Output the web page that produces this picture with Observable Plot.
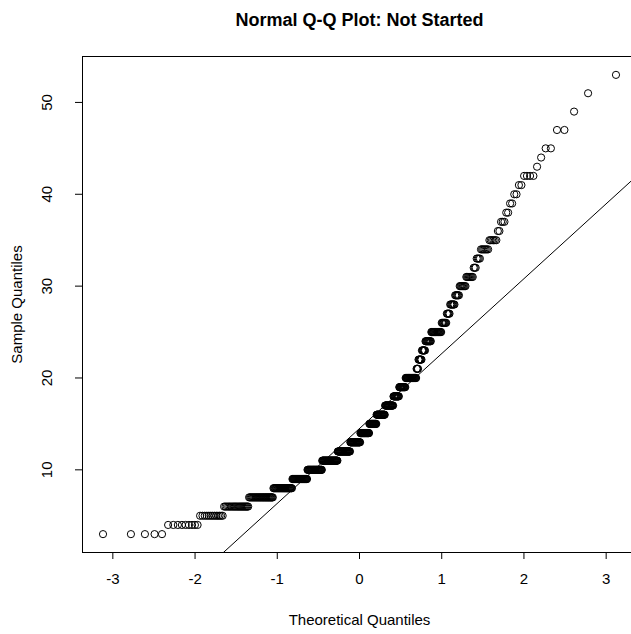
<!DOCTYPE html>
<html>
<head>
<meta charset="utf-8">
<script src="https://cdn.jsdelivr.net/npm/d3@7"></script>
<script src="https://cdn.jsdelivr.net/npm/@observablehq/plot@0.6"></script>
<style>
  html, body { margin: 0; padding: 0; background: #fff; }
  #wrap { width: 631px; height: 634px; overflow: hidden; }
</style>
</head>
<body>
<div id="wrap"></div>
<script>
// Sample values (integer levels) and how many observations sit at each level
const sampleLevels = [3,4,5,6,7,8,9,10,11,12,13,14,15,16,17,18,19,20,21,22,23,24,25,26,27,28,29,30,31,32,33,34,35,36,37,38,39,40,41,42,43,44,45,47,49,51,53];
const levelCounts  = [5,9,13,22,32,33,31,34,39,33,27,24,19,22,21,14,15,24,4,7,7,11,18,8,5,7,6,8,8,3,4,7,6,2,3,2,2,2,2,4,1,1,2,2,1,1,1];
const xTicks = [-3,-2,-1,0,1,2,3];
const yTicks = [10,20,30,40,50];
const titleText = "Normal Q-Q Plot: Not Started";
const xLabel = "Theoretical Quantiles";
const yLabel = "Sample Quantiles";

// Acklam inverse normal CDF (what qqnorm uses for theoretical quantiles)
function qnorm(p) {
  const a = [-3.969683028665376e+01, 2.209460984245205e+02, -2.759285104469687e+02, 1.383577518672690e+02, -3.066479806614716e+01, 2.506628277459239e+00];
  const b = [-5.447609879822406e+01, 1.615858368580409e+02, -1.556989798598866e+02, 6.680131188771972e+01, -1.328068155288572e+01];
  const c = [-7.784894002430293e-03, -3.223964580411365e-01, -2.400758277161838e+00, -2.549732539343734e+00, 4.374664141464968e+00, 2.938163982698783e+00];
  const d = [7.784695709041462e-03, 3.224671290700398e-01, 2.445134137142996e+00, 3.754408661907416e+00];
  const pl = 0.02425, ph = 1 - pl;
  let q, r;
  if (p < pl) {
    q = Math.sqrt(-2 * Math.log(p));
    return (((((c[0]*q+c[1])*q+c[2])*q+c[3])*q+c[4])*q+c[5]) / ((((d[0]*q+d[1])*q+d[2])*q+d[3])*q+1);
  } else if (p <= ph) {
    q = p - 0.5; r = q * q;
    return (((((a[0]*r+a[1])*r+a[2])*r+a[3])*r+a[4])*r+a[5])*q / (((((b[0]*r+b[1])*r+b[2])*r+b[3])*r+b[4])*r+1);
  } else {
    q = Math.sqrt(-2 * Math.log(1 - p));
    return -(((((c[0]*q+c[1])*q+c[2])*q+c[3])*q+c[4])*q+c[5]) / ((((d[0]*q+d[1])*q+d[2])*q+d[3])*q+1);
  }
}

// Build the sample and Q-Q coordinates
const sample = [];
sampleLevels.forEach((v, i) => { for (let k = 0; k < levelCounts[i]; k++) sample.push(v); });
sample.sort((a, b) => a - b);
const n = sample.length;
const aP = n <= 10 ? 3 / 8 : 0.5;
const qq = sample.map((v, i) => ({ theo: qnorm((i + 1 - aP) / (n + 1 - 2 * aP)), samp: v }));

// qqline through the 1st and 3rd quartiles
const q1 = d3.quantile(sample, 0.25), q3 = d3.quantile(sample, 0.75);
const z1 = qnorm(0.25), z3 = qnorm(0.75);
const slope = (q3 - q1) / (z3 - z1);
const intercept = q1 - slope * z1;

const xExt = d3.extent(qq, d => d.theo), yExt = d3.extent(qq, d => d.samp);
const xPad = (xExt[1] - xExt[0]) * 0.04, yPad = (yExt[1] - yExt[0]) * 0.04;
const xDom = [xExt[0] - xPad, xExt[1] + xPad];
const yDom = [yExt[0] - yPad, yExt[1] + yPad];
const lineSeg = [{ x1: xDom[0], y1: intercept + slope * xDom[0], x2: xDom[1], y2: intercept + slope * xDom[1] }];

const font = "'Liberation Sans', Arial, Helvetica, sans-serif";

const chart = Plot.plot({
  width: 631,
  height: 634,
  marginLeft: 82,
  marginRight: -5,
  marginTop: 56,
  marginBottom: 82,
  style: { fontFamily: font, fontSize: "15px", color: "#000", background: "#fff" },
  x: { domain: xDom },
  y: { domain: yDom },
  marks: [
    Plot.link(lineSeg, { x1: "x1", y1: "y1", x2: "x2", y2: "y2", stroke: "#000", strokeWidth: 1, clip: true }),
    Plot.dot(qq, { x: "theo", y: "samp", r: 3.6, stroke: "#000", strokeWidth: 1, fill: "none" }),
    Plot.frame({ stroke: "#000", strokeWidth: 1 }),
    Plot.axisX({ ticks: xTicks, tickSize: 7, text: null, label: null, stroke: "#000" }),
    Plot.axisY({ ticks: yTicks, tickSize: 7, text: null, label: null, stroke: "#000" }),
    Plot.text(xTicks, { x: d => d, text: d => String(d), frameAnchor: "bottom", dy: 27, textAnchor: "middle", lineAnchor: "middle", fontSize: 15, fill: "#000" }),
    Plot.text(yTicks, { y: d => d, text: d => String(d), frameAnchor: "left", dx: -35, rotate: -90, textAnchor: "middle", lineAnchor: "middle", fontSize: 15, fill: "#000" }),
    Plot.text([xLabel], { text: d => d, frameAnchor: "bottom", dy: 68, textAnchor: "middle", lineAnchor: "middle", fontSize: 15, fill: "#000" }),
    Plot.text([yLabel], { text: d => d, frameAnchor: "left", dx: -65, rotate: -90, textAnchor: "middle", lineAnchor: "middle", fontSize: 15, fill: "#000" }),
    Plot.text([titleText], { text: d => d, frameAnchor: "top", dy: -36, textAnchor: "middle", lineAnchor: "middle", fontSize: 18, fontWeight: "bold", fill: "#000" })
  ]
});
document.getElementById("wrap").appendChild(chart);
</script>
</body>
</html>
